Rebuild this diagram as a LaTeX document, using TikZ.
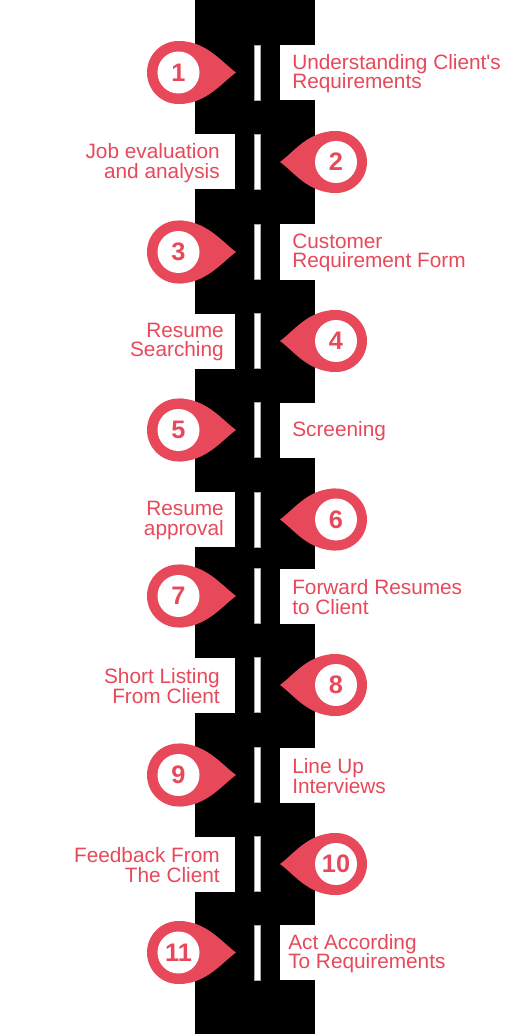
\documentclass[tikz,border=0pt]{standalone}
\usepackage{fontspec}
\newfontfamily\roadfont{Liberation Sans}
\usepackage{tikz}
\usetikzlibrary{calc}
\definecolor{pinred}{HTML}{E8495A}

\begin{document}
\begin{tikzpicture}[x=0.75pt, y=-0.75pt,
    pinnum/.style={circle, fill=white, minimum size=31.5pt, inner sep=0pt,
        text=pinred, font=\roadfont\fontsize{19}{19}\selectfont\bfseries},
    roadtext/.style={inner sep=0pt, text=pinred,
        font=\roadfont\fontsize{15.6}{14.8}\selectfont},
    lane/.style={fill=white, draw=black!35, line width=0.3pt}]
            \useasboundingbox[fill=white] (0,0) rectangle (510,1034);
            % the road
            \fill[black] (195,0) rectangle (315,1034);

            % steps with the pin on the left
            \foreach \n/\y/\x/\txt in {1/72.5/292/{Understanding Client's\\Requirements},
                    3/252/292/{Customer\\Requirement Form},
                    5/430/292/{Screening},
                    7/596/292/{Forward Resumes\\to Client},
                    9/775/292/{Line Up\\Interviews},
                    11/952.5/288/{Act According\\To Requirements}} {
                \fill[white] (280,\y-27.5) rectangle (315,\y+27.5);
                \filldraw[lane] (254.3,\y-27.5) rectangle (260,\y+27.5);
                \coordinate (c\n) at (178.5,\y);
                \coordinate (tip\n) at (236,\y);
                \fill[pinred] (c\n) circle[radius=31.5];
                \fill[pinred] ($(c\n)+(0,-31.5)$) .. controls +(28,0) and +(-14,-10) .. (tip\n)
                    .. controls +(-14,10) and +(28,0) .. ($(c\n)+(0,31.5)$) -- cycle;
                \node[pinnum] (p\n) at (c\n) {\n};
                \node[roadtext, anchor=west, align=left] (t\n) at (\x,\y+1) {\txt};
            }

            % steps with the pin on the right
            \foreach \n/\y/\x/\txt in {2/162/220/{Job evaluation\\and analysis},
                    4/341/224/{Resume\\Searching},
                    6/519.5/224/{Resume\\approval},
                    8/685/220/{Short Listing\\From Client},
                    10/864/220/{Feedback From\\The Client}} {
                \fill[white] (195,\y-27.5) rectangle (235,\y+27.5);
                \filldraw[lane] (254.3,\y-27.5) rectangle (260,\y+27.5);
                \coordinate (c\n) at (336,\y);
                \coordinate (tip\n) at (280,\y);
                \fill[pinred] (c\n) circle[radius=31];
                \fill[pinred] ($(c\n)+(0,-31)$) .. controls +(-28,0) and +(14,-10) .. (tip\n)
                    .. controls +(14,10) and +(-28,0) .. ($(c\n)+(0,31)$) -- cycle;
                \node[pinnum] (p\n) at (c\n) {\n};
                \node[roadtext, anchor=east, align=right] (t\n) at (\x,\y+1) {\txt};
            }
        \end{tikzpicture}
\end{document}
